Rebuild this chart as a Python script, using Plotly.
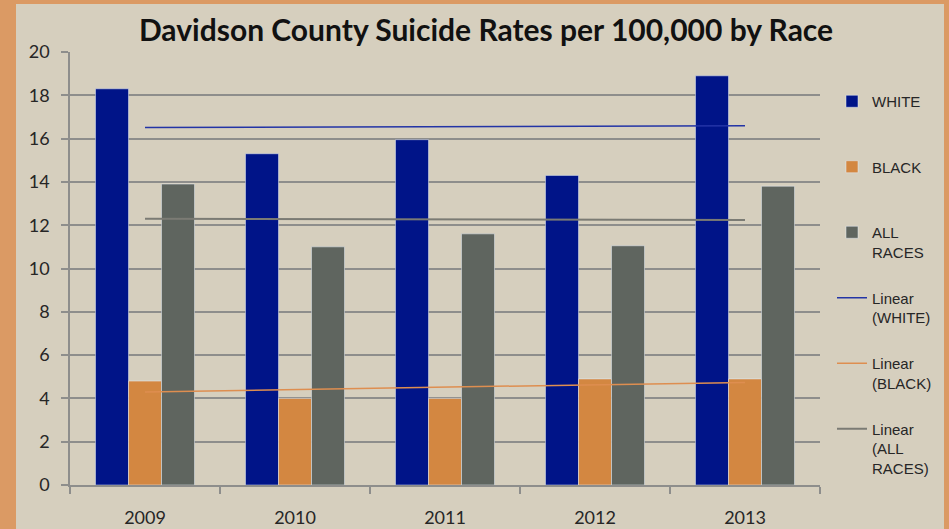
import numpy as np
import plotly.graph_objects as go

years = ["2009", "2010", "2011", "2012", "2013"]
white = [18.3, 15.3, 15.95, 14.3, 18.9]
black = [4.8, 4.0, 4.0, 4.9, 4.9]
all_races = [13.9, 11.0, 11.6, 11.05, 13.8]
y_ticks = [0, 2, 4, 6, 8, 10, 12, 14, 16, 18, 20]

C_WHITE = "#001488"
C_BLACK = "#D38741"
C_ALL = "#5F655F"
C_TW = "#2334A6"
C_TB = "#DE8E50"
C_TA = "#7B7B74"
BG = "#D6CFBE"
BORDER = "#DB9A64"
GRID = "#8E8E8C"

W, H = 949, 529
L, R, T, B = 70, 129, 52, 44
PW, PH = W - L - R, H - T - B


def trend(vals):
    x = np.arange(1, len(vals) + 1)
    m, c = np.polyfit(x, vals, 1)
    return list(m * x + c)


pad = "<br>&nbsp;"
fig = go.Figure()
fig.add_trace(go.Bar(x=years, y=white, name="WHITE" + pad + pad, marker_color=C_WHITE,
                     legendgroup="a"))
fig.add_trace(go.Bar(x=years, y=black, name="BLACK" + pad + pad, marker_color=C_BLACK,
                     legendgroup="b"))
fig.add_trace(go.Bar(x=years, y=all_races, name="ALL<br>RACES" + pad, marker_color=C_ALL,
                     legendgroup="c"))
fig.add_trace(go.Scatter(x=years, y=trend(white), mode="lines", name="Linear<br>(WHITE)" + pad,
                         line=dict(color=C_TW, width=1.5), legendgroup="d"))
fig.add_trace(go.Scatter(x=years, y=trend(black), mode="lines", name="Linear<br>(BLACK)" + pad,
                         line=dict(color=C_TB, width=1.5), legendgroup="e"))
fig.add_trace(go.Scatter(x=years, y=trend(all_races), mode="lines", name="Linear<br>(ALL<br>RACES)",
                         line=dict(color=C_TA, width=2), legendgroup="f"))


def px_x(px):
    return (px - L) / PW


def px_y(py):
    return (H - B - py) / PH


shapes = [
    dict(type="rect", xref="paper", yref="paper", x0=px_x(-5), x1=px_x(16), y0=px_y(H + 5), y1=px_y(-5),
         fillcolor=BORDER, line_width=0, layer="above"),
    dict(type="rect", xref="paper", yref="paper", x0=px_x(-5), x1=px_x(W + 5), y0=px_y(4), y1=px_y(-5),
         fillcolor=BORDER, line_width=0, layer="above"),
    dict(type="rect", xref="paper", yref="paper", x0=px_x(944), x1=px_x(W + 5), y0=px_y(H + 5), y1=px_y(-5),
         fillcolor=BORDER, line_width=0, layer="above"),
]

fig.update_layout(
    width=W, height=H,
    margin=dict(l=L, r=R, t=T, b=B, pad=0),
    paper_bgcolor=BG, plot_bgcolor=BG,
    barmode="group", bargap=0.34, bargroupgap=0,
    font=dict(family="Lato, sans-serif", color="#262626"),
    title=dict(text="<b>Davidson County Suicide Rates per 100,000 by Race</b>",
               x=486 / W, xanchor="center", y=1 - 30 / H, yanchor="middle",
               font=dict(family="Lato, sans-serif", size=30, color="#111111")),
    showlegend=True,
    legend=dict(x=px_x(832), xanchor="left", y=px_y(85), yanchor="top",
                bgcolor="rgba(0,0,0,0)", font=dict(family="Liberation Sans, sans-serif", size=15, color="#262626"),
                tracegroupgap=4, valign="top", traceorder="grouped"),
    shapes=shapes,
)
fig.update_yaxes(range=[0, 20], tickvals=y_ticks, showgrid=True, gridcolor=GRID, gridwidth=1.5,
                 ticks="outside", ticklen=7, tickcolor=GRID, tickwidth=1.5, showline=True,
                 linecolor=GRID, linewidth=1.5, zeroline=False, tickfont=dict(size=18),
                 ticklabelstandoff=8, fixedrange=True, automargin=False)
fig.update_xaxes(type="category", tickson="boundaries", ticks="outside", ticklen=7, tickcolor=GRID,
                 tickwidth=1.5, showline=True, linecolor=GRID, linewidth=1.5, showgrid=False,
                 tickfont=dict(size=18), ticklabelstandoff=16, automargin=False, fixedrange=True)

fig.write_html("out.html", config={"displayModeBar": False},
               post_script="document.body.style.margin='0';document.body.style.padding='0';"
                           "document.body.style.overflow='hidden';")
